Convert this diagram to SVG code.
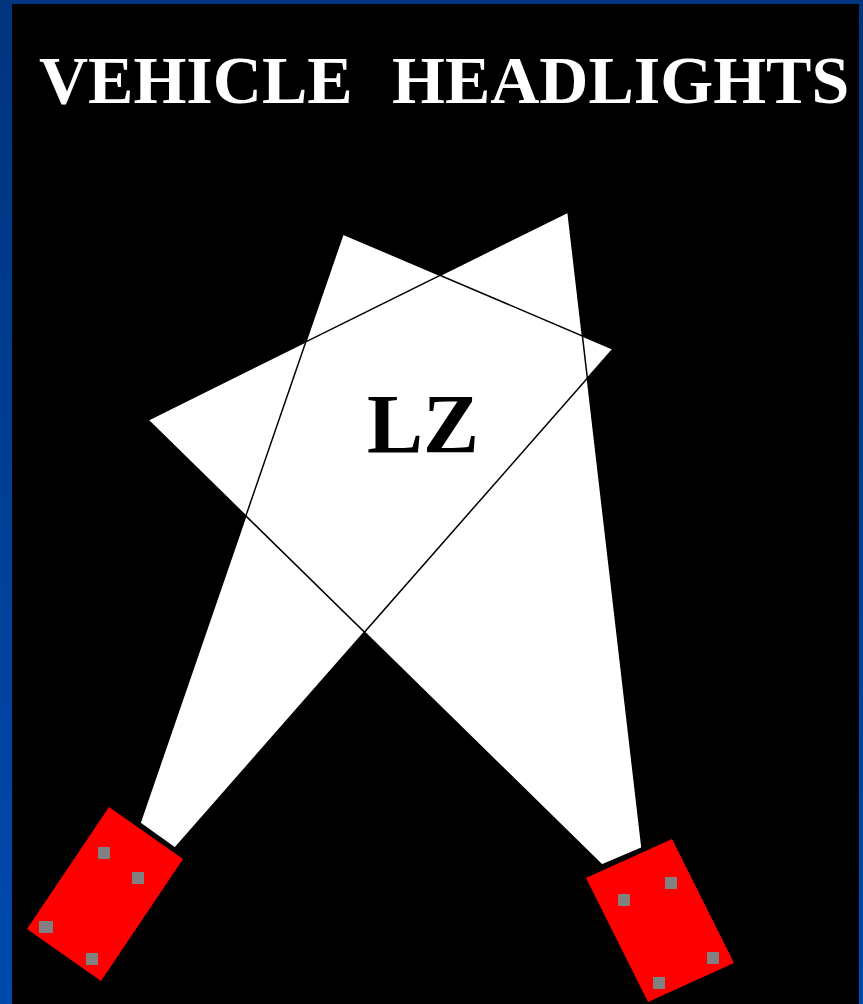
<svg xmlns="http://www.w3.org/2000/svg" width="863" height="1004" viewBox="0 0 863 1004">
<defs>
<linearGradient id="bg" x1="0" y1="0" x2="0" y2="1">
<stop offset="0" stop-color="#00347e"/>
<stop offset="1" stop-color="#004aae"/>
</linearGradient>
<style>
.beam{fill:#fff;stroke:none}
.edge{fill:none;stroke:#000;stroke-width:1.5;stroke-linejoin:miter}
.car{fill:#ff0000}
.lamp{fill:#808080}
.title{font-family:"Liberation Serif","Times New Roman",serif;font-weight:bold;font-size:68px;fill:#fff}
.lz{font-family:"Liberation Serif","Times New Roman",serif;font-weight:bold;font-size:84px;fill:#000}
</style>
</defs>
<rect x="0" y="0" width="863" height="1004" fill="url(#bg)"/>
<rect x="12" y="4" width="847" height="1000" fill="#000"/>
<g id="title">
<text class="title" x="39" y="103">VEHICLE</text>
<text class="title" x="392" y="103">HEADLIGHTS</text>
</g>
<g id="beams">
<polygon id="beam-left" class="beam" points="140,823 343,234 613,349 175,848"/>
<polygon id="beam-right" class="beam" points="602,865 148,420 568,212 642,848"/>
<polygon class="edge" points="140,823 343,234 613,349 175,848"/>
<polygon class="edge" points="602,865 148,420 568,212 642,848"/>
</g>
<g id="lz">
<text class="lz" x="367" y="453">LZ</text>
</g>
<g id="vehicle-left">
<polygon class="car" points="109,807 183,859 101,981 27,929"/>
<rect class="lamp" x="98" y="847" width="12" height="12"/>
<rect class="lamp" x="132" y="872" width="12" height="12"/>
<rect class="lamp" x="39" y="921" width="14" height="12"/>
<rect class="lamp" x="86" y="953" width="12" height="12"/>
</g>
<g id="vehicle-right">
<polygon class="car" points="672,839 734,963 648,1002 586,878"/>
<rect class="lamp" x="665" y="877" width="12" height="12"/>
<rect class="lamp" x="618" y="894" width="12" height="12"/>
<rect class="lamp" x="707" y="952" width="12" height="12"/>
<rect class="lamp" x="653" y="977" width="12" height="12"/>
</g>
</svg>
